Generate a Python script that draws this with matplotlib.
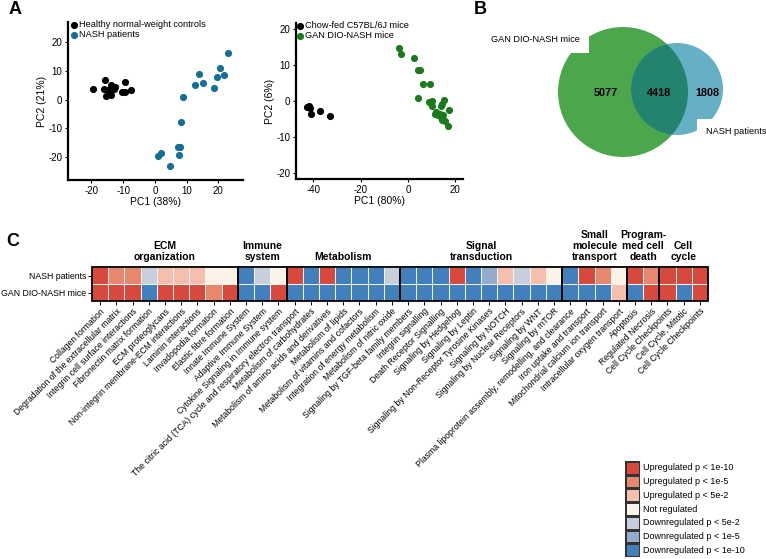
import numpy as np
import matplotlib
matplotlib.use('Agg')
import matplotlib.pyplot as plt
from matplotlib.colors import ListedColormap, BoundaryNorm
from matplotlib.patches import Circle, Rectangle

plt.rcParams['font.family'] = ['Liberation Sans', 'DejaVu Sans']
plt.rcParams['axes.unicode_minus'] = False

# ---------------- Panel A data ----------------
healthy_pc1 = [-19.5, -15.8, -16.1, -15.3, -13.7, -13.9, -12.6, -12.8, -14.7, -9.5, -10.5, -9.5, -7.6]
healthy_pc2 = [3.7, 7.0, 3.7, 1.4, 1.7, 5.0, 4.4, 3.7, 3.5, 6.0, 2.6, 2.6, 3.3]
nash_pc1 = [23.2, 20.6, 21.9, 19.7, 14.0, 15.1, 12.6, 18.6, 8.9, 8.2, 7.4, 7.9, 7.7, 1.8, 1.0, 4.7]
nash_pc2 = [16.2, 10.9, 8.5, 7.9, 8.8, 5.8, 5.0, 3.9, 0.8, -7.8, -16.7, -16.5, -19.3, -18.8, -19.7, -23.1]

chow_pc1 = [-42.5, -41.8, -41.3, -41.0, -37.2, -33.0]
chow_pc2 = [-1.6, -1.4, -1.9, -3.6, -2.9, -4.3]
gan_pc1 = [-3.8, -3.1, 2.4, 4.2, 5.2, 6.3, 9.1, 4.1, 8.8, 10.0, 10.3, 15.0, 14.3, 13.8,
           17.1, 12.0, 11.5, 12.6, 13.3, 14.7, 14.1, 14.5, 15.5, 16.8]
gan_pc2 = [14.8, 13.0, 11.9, 8.7, 8.7, 4.6, 4.8, 0.75, -0.2, 0.0, -1.4, 0.2, -0.8, -1.3,
           -2.4, -3.1, -3.7, -3.9, -3.5, -3.9, -4.5, -5.3, -5.6, -6.9]

# ---------------- Panel B data ----------------
venn_sets = ['GAN DIO-NASH mice', 'NASH patients']
venn_counts = [5077, 4418, 1808]  # mice only, shared, patients only

# ---------------- Panel C data ----------------
groups = ['ECM\norganization', 'Immune\nsystem', 'Metabolism', 'Signal\ntransduction',
          'Small\nmolecule\ntransport', 'Program-\nmed cell\ndeath', 'Cell\ncycle']
group_sizes = [9, 3, 7, 10, 4, 2, 3]
pathways = [
    'Collagen formation', 'Degradation of the extracellular matrix', 'Integrin cell surface interactions',
    'Fibronectin matrix formation', 'ECM proteoglycans', 'Non-integrin membrane-ECM interactions',
    'Laminin interactions', 'Invadopodia formation', 'Elastic fibre formation',
    'Innate Immune System', 'Adaptive Immune System', 'Cytokine Signaling in Immune system',
    'The citric acid (TCA) cycle and respiratory electron transport', 'Metabolism of carbohydrates',
    'Metabolism of amino acids and derivatives', 'Metabolism of lipids', 'Metabolism of vitamins and cofactors',
    'Integration of energy metabolism', 'Metabolism of nitric oxide',
    'Signaling by TGF-beta family members', 'Integrin signalling', 'Death Receptor Signalling',
    'Signaling by Hedgehog', 'Signaling by Leptin', 'Signaling by Non-Receptor Tyrosine Kinases',
    'Signaling by NOTCH', 'Signaling by Nuclear Receptors', 'Signaling by WNT', 'Signaling by mTOR',
    'Plasma lipoprotein assembly, remodelling, and clearance', 'Iron uptake and transport',
    'Mitochondrial calcium ion transport', 'Intracellular oxygen transport',
    'Apoptosis', 'Regulated Necrosis',
    'Cell Cycle Checkpoints', 'Cell Cycle, Mitotic', 'Cell Cycle Checkpoints']
row_labels = ['NASH patients', 'GAN DIO-NASH mice']
# 3 = up p<1e-10, 2 = up p<1e-5, 1 = up p<5e-2, 0 = not, -1/-2/-3 = down
nash_row = [3, 2, 2, -1, 1, 1, 1, 0, 0,
            -3, -1, 0,
            3, -3, 3, -3, -3, -3, -1,
            -3, -3, -3, 3, -3, -2, 1, -1, 1, 0,
            -3, 3, 2, 0,
            3, 2,
            3, 3, 3]
gan_row = [3, 3, 3, -3, 3, 3, 3, 2, 3,
           -3, -3, 3,
           -3, -3, -3, -3, -3, -3, -3,
           -3, -3, -3, -3, -3, -3, -3, -3, -3, -3,
           -3, -3, -3, 1,
           -3, 3,
           3, -3, 3]
legend_labels = ['Upregulated p < 1e-10', 'Upregulated p < 1e-5', 'Upregulated p < 5e-2',
                 'Not regulated', 'Downregulated p < 5e-2', 'Downregulated p < 1e-5',
                 'Downregulated p < 1e-10']
legend_levels = [3, 2, 1, 0, -1, -2, -3]

palette = ['#4180ba', '#93accd', '#c6cfdb', '#fbf3e8', '#f5bead', '#e6876e', '#d6493c']
cmap = ListedColormap(palette)
norm = BoundaryNorm(np.arange(-3.5, 4.5, 1), cmap.N)

W, H = 766, 559
fig = plt.figure(figsize=(W / 100, H / 100), dpi=100)


def px_axes(x0, y0, x1, y1):
    return fig.add_axes([x0 / W, 1 - y1 / H, (x1 - x0) / W, (y1 - y0) / H])


def style_scatter(ax):
    for s in ['top', 'right']:
        ax.spines[s].set_visible(False)
    for s in ['left', 'bottom']:
        ax.spines[s].set_linewidth(1.6)
    ax.tick_params(labelsize=7, length=2, width=0.8, pad=2)


# Left PCA
ax1 = px_axes(68, 22, 243, 180)
ax1.scatter(healthy_pc1, healthy_pc2, s=17, color='black', label='Healthy normal-weight controls')
ax1.scatter(nash_pc1, nash_pc2, s=17, color='#156e96', label='NASH patients')
ax1.set_xlim(-27.4, 27.8)
ax1.set_ylim(-28.1, 27.1)
ax1.set_xticks([-20, -10, 0, 10, 20])
ax1.set_yticks([-20, -10, 0, 10, 20])
ax1.set_xlabel('PC1 (38%)', fontsize=7.5, labelpad=1)
ax1.set_ylabel('PC2 (21%)', fontsize=7.5, labelpad=1)
style_scatter(ax1)
ax1.legend(loc='upper left', bbox_to_anchor=(0.02, 1.01), frameon=False, fontsize=6.6,
           handlelength=0.5, handletextpad=0.3, labelspacing=0.1, borderpad=0, borderaxespad=0)

# Right PCA
ax2 = px_axes(296, 23, 463, 179)
ax2.scatter(chow_pc1, chow_pc2, s=17, color='black', label='Chow-fed C57BL/6J mice')
ax2.scatter(gan_pc1, gan_pc2, s=17, color='#1b7a1b', label='GAN DIO-NASH mice')
ax2.set_xlim(-47.3, 23.2)
ax2.set_ylim(-21.7, 21.7)
ax2.set_xticks([-40, -20, 0, 20])
ax2.set_yticks([-20, -10, 0, 10, 20])
ax2.set_xlabel('PC1 (80%)', fontsize=7.5, labelpad=1)
ax2.set_ylabel('PC2 (6%)', fontsize=7.5, labelpad=1)
style_scatter(ax2)
ax2.legend(loc='upper left', bbox_to_anchor=(0.01, 1.01), frameon=False, fontsize=6.6,
           handlelength=0.5, handletextpad=0.3, labelspacing=0.1, borderpad=0, borderaxespad=0)

# Venn
ax3 = px_axes(480, 0, 766, 200)
ax3.set_xlim(480, 766)
ax3.set_ylim(200, 0)
ax3.axis('off')
gcirc = Circle((623, 92), 65, fc='#4ca64c', ec='none', zorder=1)
bcirc = Circle((677, 89), 46, fc='#66b0c6', ec='none', zorder=1)
ax3.add_patch(gcirc)
ax3.add_patch(bcirc)
ov = Circle((677, 89), 46, fc='#23836f', ec='none', zorder=2)
ax3.add_patch(ov)
ov.set_clip_path(gcirc)
ax3.text(606, 93, str(venn_counts[0]), ha='center', va='center', fontsize=7.8, fontweight='bold', zorder=5)
ax3.text(659, 93, str(venn_counts[1]), ha='center', va='center', fontsize=7.8, fontweight='bold', zorder=5)
ax3.text(707, 93, str(venn_counts[2]), ha='center', va='center', fontsize=7.8, fontweight='bold', zorder=5)
ax3.text(580, 40, venn_sets[0], ha='right', va='center', fontsize=6.6, zorder=6,
         bbox=dict(boxstyle='square,pad=0.95', fc='white', ec='none'))
ax3.text(706, 132, venn_sets[1], ha='left', va='center', fontsize=6.6, zorder=6,
         bbox=dict(boxstyle='square,pad=0.95', fc='white', ec='none'))

# Heatmap
ax4 = px_axes(92, 267, 708, 301)
data = np.array([nash_row, gan_row])
ncol = len(pathways)
ax4.pcolormesh(np.arange(ncol + 1), np.arange(3), data, cmap=cmap, norm=norm,
               edgecolors='#f4f4f4', linewidth=0.4)
ax4.set_xlim(0, ncol)
ax4.set_ylim(2, 0)
for s in ax4.spines.values():
    s.set_visible(False)
ax4.set_xticks(np.arange(ncol) + 0.5)
ax4.set_xticklabels(pathways, rotation=45, ha='right', rotation_mode='anchor', fontsize=6.2)
ax4.set_yticks([0.5, 1.5])
ax4.set_yticklabels(row_labels, fontsize=6.3)
ax4.tick_params(length=3, width=0.7, pad=1.2)
start = 0
for g, n in zip(groups, group_sizes):
    ax4.add_patch(Rectangle((start, 0), n, 2, fill=False, ec='black', lw=1.3, clip_on=False, zorder=5))
    ax4.text(start + n / 2, -0.28, g, ha='center', va='bottom', fontsize=7.5, fontweight='bold',
             linespacing=1.15)
    start += n

# Legend
ax5 = px_axes(625, 461, 640, 557)
lev = np.array(legend_levels).reshape(-1, 1)
ax5.pcolormesh(np.arange(2), np.arange(len(lev) + 1), lev, cmap=cmap, norm=norm,
               edgecolors='#333333', linewidth=0.8)
ax5.set_ylim(len(lev), 0)
ax5.set_xlim(0, 1)
ax5.axis('off')
for i, lab in enumerate(legend_labels):
    ax5.text(1.2, i + 0.5, lab, ha='left', va='center', fontsize=6.5)

# Panel letters
fig.text(15 / W, 1 - 10 / H, 'A', fontsize=13, fontweight='bold', ha='center', va='center')
fig.text(480 / W, 1 - 9 / H, 'B', fontsize=13, fontweight='bold', ha='center', va='center')
fig.text(13 / W, 1 - 242 / H, 'C', fontsize=13, fontweight='bold', ha='center', va='center')

fig.savefig('out.png', dpi=100)
